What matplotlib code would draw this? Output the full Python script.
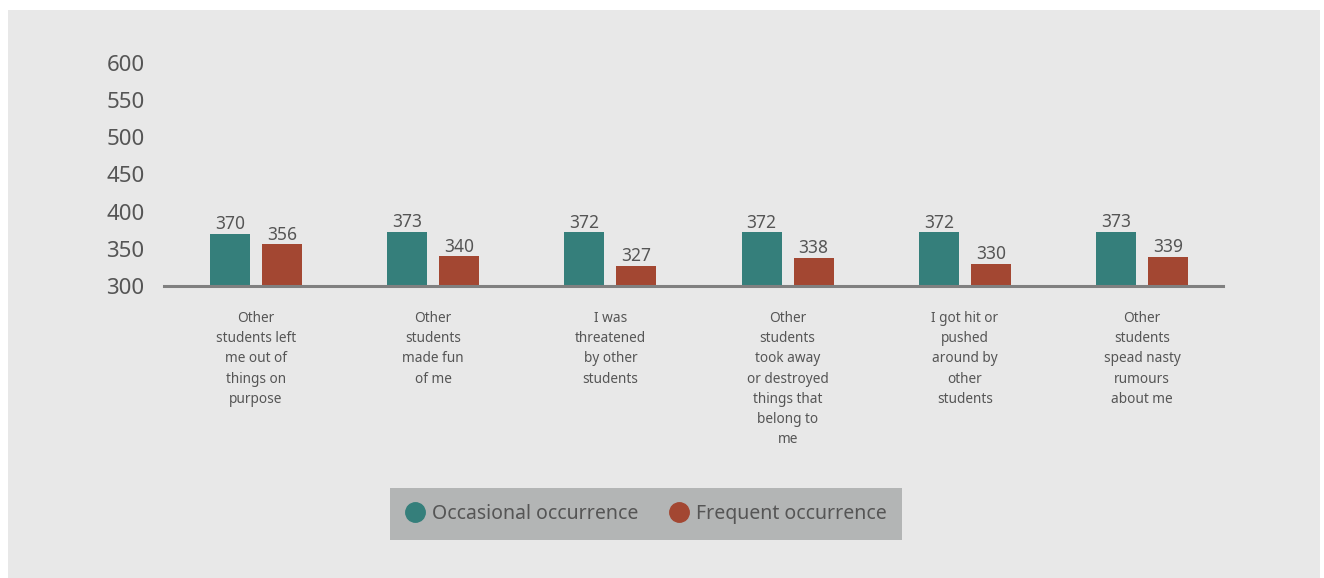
import matplotlib
matplotlib.use("Agg")
import matplotlib.pyplot as plt
from matplotlib.patches import Rectangle
from matplotlib.lines import Line2D
import numpy as np

categories = [
    "Other\nstudents left\nme out of\nthings on\npurpose",
    "Other\nstudents\nmade fun\nof me",
    "I was\nthreatened\nby other\nstudents",
    "Other\nstudents\ntook away\nor destroyed\nthings that\nbelong to\nme",
    "I got hit or\npushed\naround by\nother\nstudents",
    "Other\nstudents\nspead nasty\nrumours\nabout me",
]
occasional = [370, 373, 372, 372, 372, 373]
frequent = [356, 340, 327, 338, 330, 339]
series_names = ["Occasional occurrence", "Frequent occurrence"]
yticks = [300, 350, 400, 450, 500, 550, 600]

plt.rcParams['font.family'] = ['Noto Sans', 'DejaVu Sans']
TEXT = "#555555"
TEAL = "#357f7b"
RED = "#a34732"

fig = plt.figure(figsize=(13.24, 5.78), dpi=100)
fig.patch.set_facecolor("white")
fig.patches.append(Rectangle((8/1324, 0), (1320-8)/1324, 1 - 10/578,
                             transform=fig.transFigure, facecolor="#e8e8e8",
                             edgecolor="none", zorder=-10))

ax = fig.add_axes([164/1324, 1 - 286/578, (1223-164)/1324, (286-63)/578])
ax.set_facecolor("none")
x = np.arange(len(categories))
w = 0.226
off = 0.147
b1 = ax.bar(x - off, np.array(occasional) - 300, bottom=300, width=w, color=TEAL, zorder=2)
b2 = ax.bar(x + off, np.array(frequent) - 300, bottom=300, width=w, color=RED, zorder=2)
for bars, vals in ((b1, occasional), (b2, frequent)):
    for r, v in zip(bars, vals):
        ax.annotate(str(v), (r.get_x() + r.get_width()/2, v), xytext=(0, 0.5),
                    textcoords="offset points", ha="center", va="bottom",
                    fontsize=12.5, color=TEXT)

ax.set_xlim(-0.519, 5.457)
ax.set_ylim(300, 600)
ax.set_yticks(yticks)
ax.set_yticklabels([str(t) for t in yticks], fontsize=16, color=TEXT)
ax.tick_params(axis="y", length=0, pad=14)
ax.set_xticks(x)
ax.set_xticklabels(categories, fontsize=9.8, color=TEXT, linespacing=1.47, va="top")
ax.tick_params(axis="x", length=0, pad=18)
for s in ["top", "right", "left"]:
    ax.spines[s].set_visible(False)
ax.spines["bottom"].set_color("#808080")
ax.spines["bottom"].set_linewidth(2.2)
ax.spines["bottom"].set_zorder(3)

handles = [Line2D([], [], marker="o", linestyle="none", markersize=14, color=TEAL),
           Line2D([], [], marker="o", linestyle="none", markersize=14, color=RED)]
leg = fig.legend(handles, series_names, loc="center", bbox_to_anchor=(646/1324, 1 - 514/578),
                 ncol=2, frameon=True, fontsize=14, handlelength=1.0, handletextpad=0.35,
                 columnspacing=1.6, borderpad=0.8, borderaxespad=0, fancybox=False)
leg.get_frame().set_facecolor("#b3b5b5")
leg.get_frame().set_edgecolor("none")
leg.get_frame().set_alpha(1)
for t in leg.get_texts():
    t.set_color(TEXT)

fig.savefig("out.png", dpi=100, facecolor=fig.get_facecolor())
